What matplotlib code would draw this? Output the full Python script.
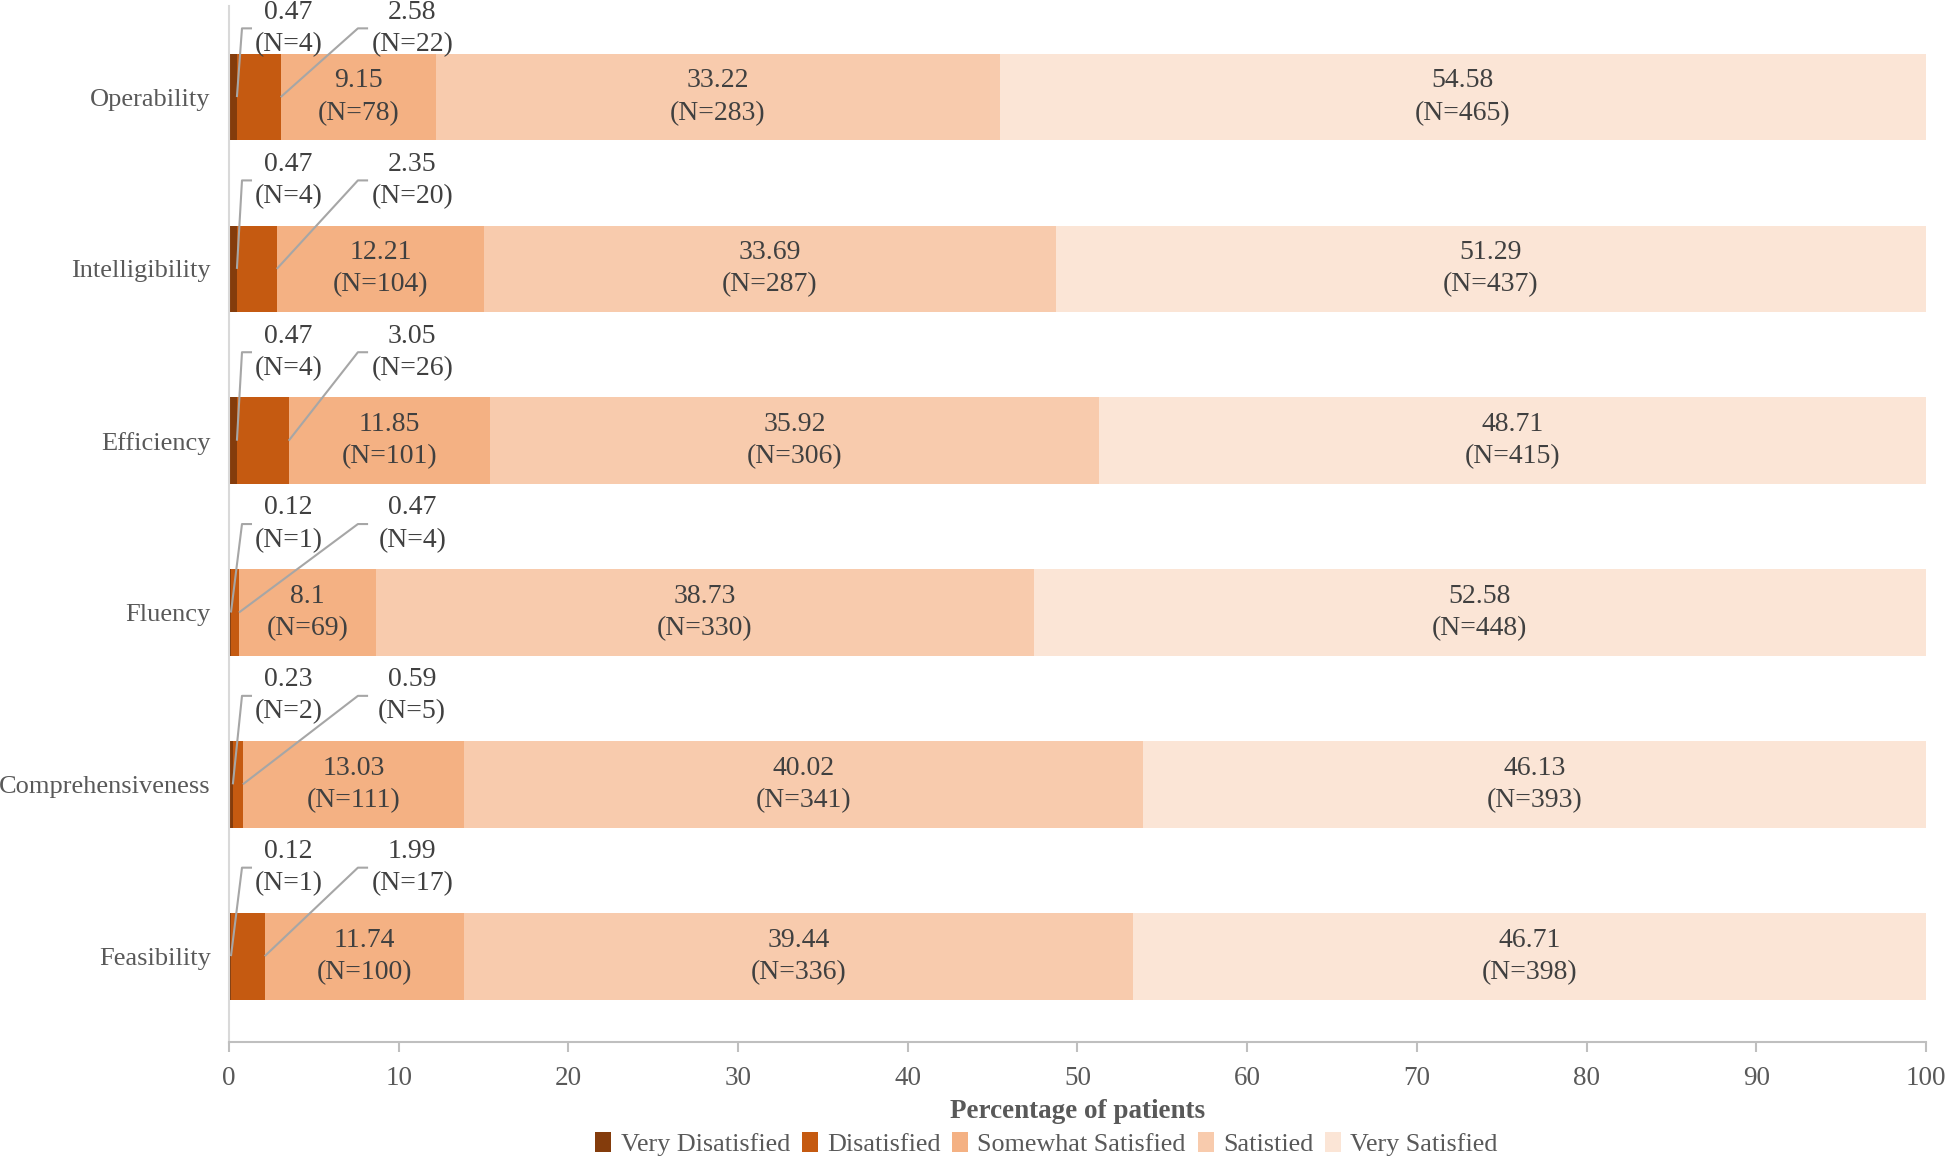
import matplotlib
matplotlib.use("Agg")
import matplotlib.pyplot as plt
import numpy as np

# Data
# =====
categories = ['Operability', 'Intelligibility', 'Efficiency', 'Fluency',
              'Comprehensiveness', 'Feasibility']
levels = ['Very Disatisfied', 'Disatisfied', 'Somewhat Satisfied',
          'Satistied', 'Very Satisfied']

very_dis = [0.47, 0.47, 0.47, 0.12, 0.23, 0.12]
dis = [2.58, 2.35, 3.05, 0.47, 0.59, 1.99]
somewhat = [9.15, 12.21, 11.85, 8.1, 13.03, 11.74]
satisfied = [33.22, 33.69, 35.92, 38.73, 40.02, 39.44]
very_sat = [54.58, 51.29, 48.71, 52.58, 46.13, 46.71]

n_very_dis = [4, 4, 4, 1, 2, 1]
n_dis = [22, 20, 26, 4, 5, 17]
n_somewhat = [78, 104, 101, 69, 111, 100]
n_satisfied = [283, 287, 306, 330, 341, 336]
n_very_sat = [465, 437, 415, 448, 393, 398]

pct_labels = {
    'very_dis': ['0.47', '0.47', '0.47', '0.12', '0.23', '0.12'],
    'dis': ['2.58', '2.35', '3.05', '0.47', '0.59', '1.99'],
}

colors = ['#843C0C', '#C55A11', '#F4B183', '#F8CBAD', '#FBE5D6']
TEXT = '#404040'
GREY = '#595959'
LBL_SIZE = 20
LBL_SPACING = 1.38

plt.rcParams['font.family'] = ['Liberation Serif', 'DejaVu Serif']

# Plot
# =====
fig = plt.figure(figsize=(19.45, 11.59), dpi=100)
ax = fig.add_axes([0.1177, 0.1009, 0.8725, 0.8939])

series = [very_dis, dis, somewhat, satisfied, very_sat]
counts = [n_very_dis, n_dis, n_somewhat, n_satisfied, n_very_sat]
ypos = np.arange(len(categories))[::-1]

left = np.zeros(len(categories))
for vals, col, lab in zip(series, colors, levels):
    ax.barh(ypos, vals, left=left, height=0.505, color=col, label=lab)
    left += np.array(vals)

# big segments: label centred in the bar
starts = np.zeros(len(categories))
for k, (vals, ns) in enumerate(zip(series, counts)):
    for i, (v, n) in enumerate(zip(vals, ns)):
        if k >= 2:
            ax.text(starts[i] + v / 2, ypos[i], f"{v:g}\n(N={n})",
                    ha='center', va='center', fontsize=LBL_SIZE, color=TEXT,
                    linespacing=LBL_SPACING)
    starts += np.array(vals)

# small segments: label above bar with leader line
line_col = '#A6A6A6'
for i in range(len(categories)):
    y = ypos[i]
    ly = min(y + 0.515, 5.40)
    end1 = very_dis[i]
    end2 = very_dis[i] + dis[i]
    ax.text(3.5, ly, f"{pct_labels['very_dis'][i]}\n(N={n_very_dis[i]})",
            ha='center', va='center', fontsize=LBL_SIZE, color=TEXT,
            linespacing=LBL_SPACING)
    ax.text(10.8, ly, f"{pct_labels['dis'][i]}\n(N={n_dis[i]})",
            ha='center', va='center', fontsize=LBL_SIZE, color=TEXT,
            linespacing=LBL_SPACING)
    ax.plot([1.36, 0.77, end1], [ly, ly, y], color=line_col, lw=1.5,
            solid_capstyle='butt', zorder=4)
    ax.plot([8.2, 7.6, end2], [ly, ly, y], color=line_col, lw=1.5,
            solid_capstyle='butt', zorder=4)

ax.set_xlim(0, 100)
ax.set_ylim(-0.5, 5.53)
ax.set_xticks(np.arange(0, 101, 10))
ax.set_yticks(ypos)
ax.set_yticklabels(categories)

for s in ['top', 'right']:
    ax.spines[s].set_visible(False)
ax.spines['left'].set_color('#D9D9D9')
ax.spines['left'].set_linewidth(1.5)
ax.spines['bottom'].set_color('#BFBFBF')
ax.spines['bottom'].set_linewidth(1.5)
ax.tick_params(axis='x', direction='out', length=7, width=1.5, color='#BFBFBF',
               labelsize=19.5, labelcolor=GREY, pad=10)
ax.tick_params(axis='y', length=0, labelsize=19, labelcolor=GREY, pad=13)

ax.set_xlabel('Percentage of patients', fontsize=19.5, fontweight='bold',
              color=GREY, labelpad=6)

fig.legend(loc='center', bbox_to_anchor=(0.538, 0.013), ncol=5,
           frameon=False, fontsize=18.8, labelcolor=GREY, handlelength=0.62,
           handleheight=0.8, handletextpad=0.35, columnspacing=0.45)

fig.savefig('out.png', dpi=100)
